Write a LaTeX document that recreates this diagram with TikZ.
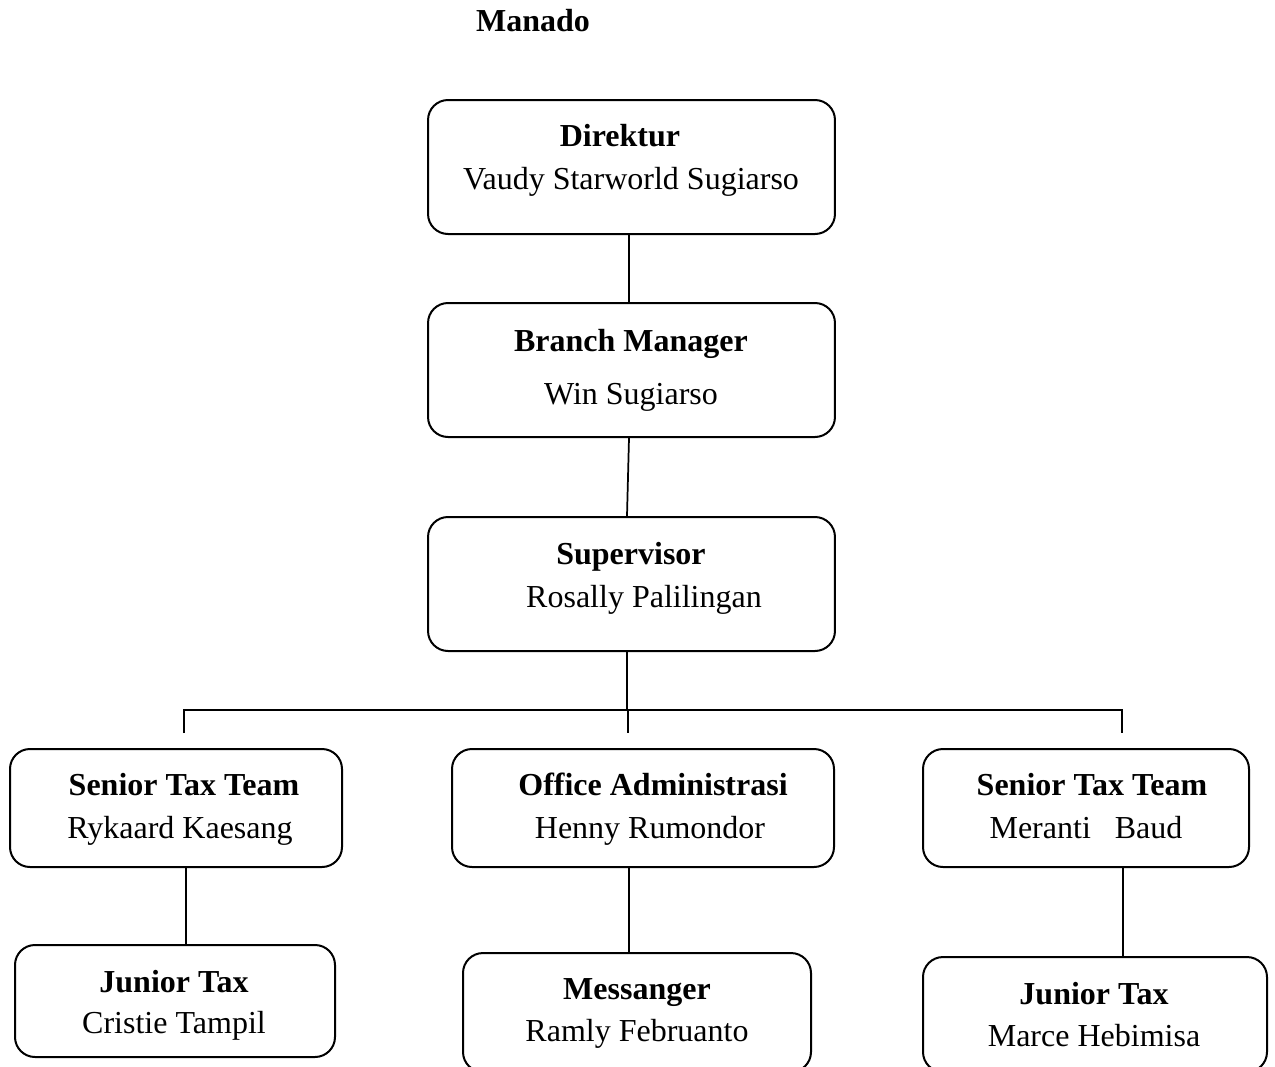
\documentclass[tikz,border=0pt]{standalone}
\usepackage{fontspec}
\setmainfont{Liberation Serif}
\begin{document}
\begin{tikzpicture}[x=0.375pt,y=-0.375pt,
  box/.style={draw=black,line width=0.75pt,rounded corners=7.5pt,inner sep=0pt,fill=white},
  lbl/.style={inner sep=0pt,yshift=-1.9pt,font=\fontsize{12}{14}\selectfont,text height=0.7em,text depth=0.2em},
  blbl/.style={lbl,font=\fontsize{12}{14}\selectfont\bfseries},
  conn/.style={draw=black,line width=0.65pt}]
\useasboundingbox (0,0) rectangle (1275,1067);
\clip (0,0) rectangle (1275,1067);
% boxes
\node[box,minimum width=152.6pt,minimum height=50.25pt] (dir) at (631.5,167) {};
\node[box,minimum width=152.6pt,minimum height=50.25pt] (bm) at (631.5,370) {};
\node[box,minimum width=152.6pt,minimum height=50.25pt] (sup) at (631.5,584) {};
\node[box,minimum width=124.5pt,minimum height=44.25pt] (st1) at (176,808) {};
\node[box,minimum width=143.25pt,minimum height=44.25pt] (oa) at (643,808) {};
\node[box,minimum width=122.25pt,minimum height=44.25pt] (st2) at (1086,808) {};
\node[box,minimum width=120pt,minimum height=42pt] (jt1) at (175,1001) {};
\node[box,minimum width=130.5pt,minimum height=44.6pt] (msg) at (637,1012.5) {};
\node[box,minimum width=129pt,minimum height=43.1pt] (jt2) at (1095,1014.5) {};
% texts
\node[blbl] (title) at (533,20) {Manado};
\node[blbl] (dirT) at (620,135) {Direktur};
\node[lbl] (dirN) at (631,178) {Vaudy Starworld Sugiarso};
\node[blbl] (bmT) at (631,340) {Branch Manager};
\node[lbl] (bmN) at (631,393) {Win Sugiarso};
\node[blbl] (supT) at (631,553) {Supervisor};
\node[lbl] (supN) at (644,596) {Rosally Palilingan};
\node[blbl] (st1T) at (184,784) {Senior Tax Team};
\node[lbl] (st1N) at (180,827) {Rykaard Kaesang};
\node[blbl] (oaT) at (653,784) {Office Administrasi};
\node[lbl] (oaN) at (650,827) {Henny Rumondor};
\node[blbl] (st2T) at (1092,784) {Senior Tax Team};
\node[lbl] (st2N) at (1086,827) {Meranti\ \ \ Baud};
\node[blbl] (jt1T) at (174,981) {Junior Tax};
\node[lbl] (jt1N) at (174,1022) {Cristie Tampil};
\node[blbl] (msgT) at (637,988) {Messanger};
\node[lbl] (msgN) at (637,1030) {Ramly Februanto};
\node[blbl] (jt2T) at (1094,993) {Junior Tax};
\node[lbl] (jt2N) at (1094,1035) {Marce Hebimisa};
% helper coordinates
\coordinate (xa) at (629,0);
\coordinate (xb) at (627,0);
\coordinate (barL) at (184,710);
\coordinate (barM) at (628,710);
\coordinate (barS) at (627,710);
\coordinate (barR) at (1122,710);
\coordinate (tL) at (184,733);
\coordinate (tM) at (628,733);
\coordinate (tR) at (1122,733);
\coordinate (x1) at (186,0);
\coordinate (x2) at (629,0);
\coordinate (x3) at (1123,0);
% connectors
\draw[conn] (dir.south -| xa) -- (bm.north -| xa);
\draw[conn] (bm.south -| xa) -- (sup.north -| xb);
\draw[conn] (sup.south -| xb) -- (barS);
\draw[conn] (tL) -- (barL) -- (barR) -- (tR);
\draw[conn] (barM) -- (tM);
\draw[conn] (st1.south -| x1) -- (jt1.north -| x1);
\draw[conn] (oa.south -| x2) -- (msg.north -| x2);
\draw[conn] (st2.south -| x3) -- (jt2.north -| x3);
\end{tikzpicture}
\end{document}
